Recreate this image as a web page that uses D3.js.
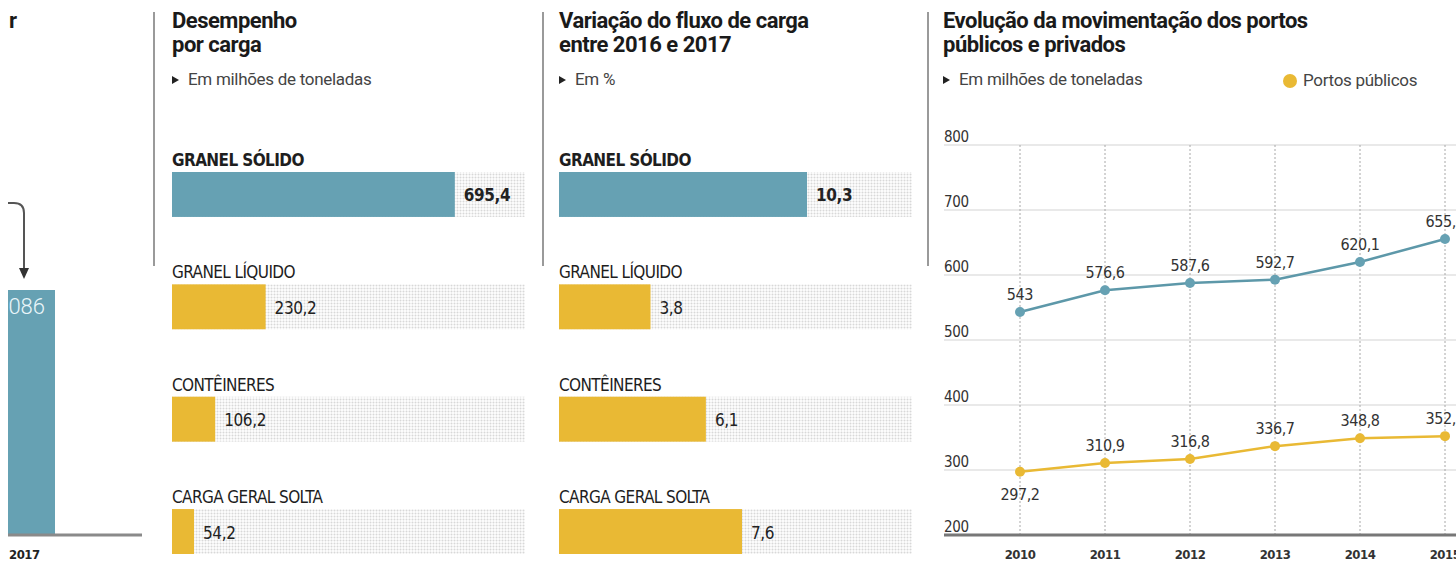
<!DOCTYPE html>
<html>
<head>
<meta charset="utf-8">
<script src="https://cdn.jsdelivr.net/npm/d3@7"></script>
<style>
  html, body { margin: 0; padding: 0; background: #fff; }
  svg { display: block; }
  .title { font-family: Roboto, "Liberation Sans", sans-serif; font-weight: 700; font-size: 22px; fill: #1a1a1a; letter-spacing: -0.5px; }
  .sub { font-family: Roboto, "Liberation Sans", sans-serif; font-size: 17px; fill: #444; letter-spacing: -0.3px; }
  .narrow { font-family: "Liberation Sans Narrow", "DejaVu Sans Condensed", "Arial Narrow", sans-serif; }
</style>
</head>
<body>
<div id="chart"></div>
<script>
// ---- data ----
const totalYears = ["2017"];
const totalValues = [1086];

const cargoTypes = ["GRANEL SÓLIDO", "GRANEL LÍQUIDO", "CONTÊINERES", "CARGA GERAL SOLTA"];
const cargoTons = [695.4, 230.2, 106.2, 54.2];
const cargoChange = [10.3, 3.8, 6.1, 7.6];

const years = [2010, 2011, 2012, 2013, 2014, 2015];
const portosPrivados = [543, 576.6, 587.6, 592.7, 620.1, 655.4];
const portosPublicos = [297.2, 310.9, 316.8, 336.7, 348.8, 352.1];
const yTicks = [200, 300, 400, 500, 600, 700, 800];

const TEAL = "#66a1b3";
const YELLOW = "#e9b934";
const fmt = v => String(v).replace(".", ",");

const W = 1456, H = 563;
const svg = d3.select("#chart").append("svg")
    .attr("width", W)
    .attr("height", H);

svg.append("rect").attr("width", W).attr("height", H).attr("fill", "#fff");

// dotted background texture for the bar tracks
const defs = svg.append("defs");
const pat = defs.append("pattern")
    .attr("id", "dots")
    .attr("width", 3)
    .attr("height", 3)
    .attr("patternUnits", "userSpaceOnUse");
pat.append("rect").attr("width", 3).attr("height", 3).attr("fill", "#fbfbfb");
pat.append("rect").attr("width", 3).attr("height", 1).attr("fill", "#eeeeee");
pat.append("rect").attr("width", 1).attr("height", 3).attr("fill", "#eeeeee");
pat.append("rect").attr("width", 1).attr("height", 1).attr("fill", "#d8d8d8");

defs.append("clipPath").attr("id", "leftClip")
    .append("rect").attr("x", 8).attr("y", 0).attr("width", 150).attr("height", H);

// separators between panels
[154, 543, 928].forEach(x => {
    svg.append("line")
        .attr("x1", x).attr("x2", x)
        .attr("y1", 12).attr("y2", 266)
        .attr("stroke", "#9a9a9a")
        .attr("stroke-width", 2);
});

// small helper for the "► subtitle" lines
function subtitle(x, text) {
    svg.append("path")
        .attr("d", `M${x},76 L${x + 7},80 L${x},84 Z`)
        .attr("fill", "#222");
    svg.append("text").attr("class", "sub")
        .attr("x", x + 16).attr("y", 85)
        .text(text);
}

function titleLines(x, lines) {
    lines.forEach((t, i) => {
        svg.append("text").attr("class", "title")
            .attr("x", x).attr("y", 28 + i * 24)
            .text(t);
    });
}

// ---- left (cropped) panel: total 2017 ----
const left = svg.append("g").attr("clip-path", "url(#leftClip)");

left.append("text")
    .attr("class", "title")
    .attr("x", 9).attr("y", 28)
    .text("r");

const xTot = d3.scaleBand().domain(totalYears).range([-15, 55]);
const yTot = d3.scaleLinear().domain([0, d3.max(totalValues)]).range([535, 290]);

left.selectAll("rect.tot")
    .data(totalYears)
    .enter()
    .append("rect")
    .attr("class", "tot")
    .attr("x", d => xTot(d))
    .attr("width", xTot.bandwidth())
    .attr("y", (d, i) => yTot(totalValues[i]))
    .attr("height", (d, i) => yTot(0) - yTot(totalValues[i]))
    .attr("fill", TEAL);

left.selectAll("text.totv")
    .data(totalYears)
    .enter()
    .append("text")
    .attr("class", "totv")
    .attr("x", 45)
    .attr("y", (d, i) => yTot(totalValues[i]) + 24)
    .attr("text-anchor", "end")
    .style("font-family", "Roboto, sans-serif")
    .style("font-size", "22px")
    .style("font-weight", 300)
    .attr("fill", "#eaf6fa")
    .text((d, i) => totalValues[i].toLocaleString("pt-BR"));

left.append("line")
    .attr("x1", 0).attr("x2", 142)
    .attr("y1", yTot(0)).attr("y2", yTot(0))
    .attr("stroke", "#8a8a8a")
    .attr("stroke-width", 3);

left.selectAll("text.toty")
    .data(totalYears)
    .enter()
    .append("text")
    .attr("class", "toty narrow")
    .attr("x", 9)
    .attr("y", 559)
    .style("font-size", "13px")
    .style("font-weight", 700)
    .style("letter-spacing", "-0.5px")
    .attr("fill", "#222")
    .text(d => d);

// arrow pointing into the bar
left.append("path")
    .attr("d", "M-20,203 L14,203 Q24,203 24,213 L24,268")
    .attr("fill", "none")
    .attr("stroke", "#555")
    .attr("stroke-width", 2);
left.append("path")
    .attr("d", "M19,268 L29,268 L24,279 Z")
    .attr("fill", "#333");

// ---- horizontal bar panels ----
function barPanel(x0, values, maxVal, titles, subText) {
    titleLines(x0, titles);
    subtitle(x0, subText);

    const x = d3.scaleLinear().domain([0, maxVal]).range([0, 353]);
    const y = d3.scaleBand()
        .domain(cargoTypes)
        .range([172, 554])
        .paddingInner(0.6)
        .paddingOuter(0);

    const g = svg.append("g").attr("transform", `translate(${x0},0)`);

    g.selectAll("rect.track")
        .data(cargoTypes)
        .enter()
        .append("rect")
        .attr("class", "track")
        .attr("x", 0)
        .attr("y", d => y(d))
        .attr("width", x.range()[1])
        .attr("height", y.bandwidth())
        .attr("fill", "url(#dots)");

    g.selectAll("rect.bar")
        .data(cargoTypes)
        .enter()
        .append("rect")
        .attr("class", "bar")
        .attr("x", 0)
        .attr("y", d => y(d))
        .attr("width", (d, i) => x(values[i]))
        .attr("height", y.bandwidth())
        .attr("fill", (d, i) => i === 0 ? TEAL : YELLOW);

    g.selectAll("text.cat")
        .data(cargoTypes)
        .enter()
        .append("text")
        .attr("class", "cat narrow")
        .attr("x", 0)
        .attr("y", d => y(d) - 6)
        .style("font-size", "17px")
        .style("font-weight", (d, i) => i === 0 ? 700 : 400)
        .style("letter-spacing", "-0.6px")
        .attr("fill", "#1e1e1e")
        .text(d => d);

    g.selectAll("text.val")
        .data(cargoTypes)
        .enter()
        .append("text")
        .attr("class", "val narrow")
        .attr("x", (d, i) => x(values[i]) + 9)
        .attr("y", d => y(d) + y.bandwidth() / 2 + 7)
        .style("font-size", "17px")
        .style("font-weight", (d, i) => i === 0 ? 700 : 400)
        .style("letter-spacing", "-0.4px")
        .attr("fill", "#222")
        .text((d, i) => fmt(values[i]));
}

barPanel(172, cargoTons, 868, ["Desempenho", "por carga"], "Em milhões de toneladas");
barPanel(559, cargoChange, 14.66, ["Variação do fluxo de carga", "entre 2016 e 2017"], "Em %");

// ---- line chart: public vs private ports ----
titleLines(943, ["Evolução da movimentação dos portos", "públicos e privados"]);
subtitle(943, "Em milhões de toneladas");

svg.append("circle")
    .attr("cx", 1290).attr("cy", 81).attr("r", 7)
    .attr("fill", YELLOW);
svg.append("text").attr("class", "sub")
    .attr("x", 1303).attr("y", 86)
    .text("Portos públicos");

const xL = d3.scalePoint().domain(years).range([1020, 1445]);
const yL = d3.scaleLinear().domain([200, 800]).range([535, 145]);

const lc = svg.append("g");

lc.selectAll("line.hgrid")
    .data(yTicks.slice(1))
    .enter()
    .append("line")
    .attr("class", "hgrid")
    .attr("x1", 944).attr("x2", W)
    .attr("y1", d => yL(d)).attr("y2", d => yL(d))
    .attr("stroke", "#e2e2e2")
    .attr("stroke-width", 1.5);

lc.selectAll("line.vgrid")
    .data(years)
    .enter()
    .append("line")
    .attr("class", "vgrid")
    .attr("x1", d => xL(d)).attr("x2", d => xL(d))
    .attr("y1", yL(800)).attr("y2", yL(200))
    .attr("stroke", "#a8a8a8")
    .attr("stroke-width", 1)
    .attr("stroke-dasharray", "2,2");

lc.selectAll("text.ytick")
    .data(yTicks)
    .enter()
    .append("text")
    .attr("class", "ytick narrow")
    .attr("x", 944)
    .attr("y", d => yL(d) - 3)
    .style("font-size", "15px")
    .style("letter-spacing", "-0.3px")
    .attr("fill", "#333")
    .text(d => d);

lc.append("line")
    .attr("x1", 944).attr("x2", W)
    .attr("y1", yL(200)).attr("y2", yL(200))
    .attr("stroke", "#777")
    .attr("stroke-width", 3);

lc.selectAll("text.year")
    .data(years)
    .enter()
    .append("text")
    .attr("class", "year narrow")
    .attr("x", d => xL(d))
    .attr("y", 559)
    .attr("text-anchor", "middle")
    .style("font-size", "13px")
    .style("font-weight", 700)
    .style("letter-spacing", "-0.5px")
    .attr("fill", "#333")
    .text(d => d);

const line = d3.line()
    .x(d => xL(d[0]))
    .y(d => yL(d[1]));

[[portosPrivados, TEAL, "#5d98a9"], [portosPublicos, YELLOW, YELLOW]].forEach(([vals, col, lineCol], s) => {
    const pts = years.map((yr, i) => [yr, vals[i]]);
    lc.append("path")
        .datum(pts)
        .attr("d", line)
        .attr("fill", "none")
        .attr("stroke", lineCol)
        .attr("stroke-width", 2.5);

    lc.selectAll(`circle.s${s}`)
        .data(pts)
        .enter()
        .append("circle")
        .attr("class", `s${s}`)
        .attr("cx", d => xL(d[0]))
        .attr("cy", d => yL(d[1]))
        .attr("r", 5)
        .attr("fill", col);

    lc.selectAll(`text.l${s}`)
        .data(pts)
        .enter()
        .append("text")
        .attr("class", `l${s} narrow`)
        .attr("x", d => xL(d[0]))
        .attr("y", (d, i) => (s === 1 && i === 0) ? yL(d[1]) + 28 : yL(d[1]) - 12)
        .attr("text-anchor", "middle")
        .style("font-size", "16px")
        .style("letter-spacing", "-0.4px")
        .attr("fill", "#333")
        .text(d => fmt(d[1]));
});
</script>
</body>
</html>
